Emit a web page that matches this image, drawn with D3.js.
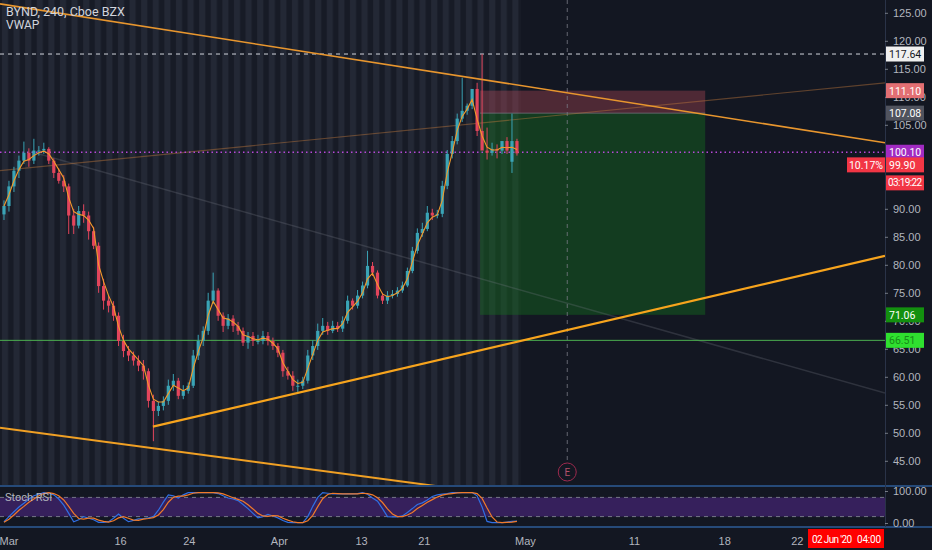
<!DOCTYPE html>
<html lang="en">
<head>
<meta charset="utf-8">
<title>BYND, 240, Cboe BZX</title>
<style>
  html, body {margin: 0; padding: 0; background: #131722;}
  svg {display: block; font-family: Roboto, "Liberation Sans", Arial, sans-serif;}
  .axis text {fill: #b2b5be; font-size: 11px;}
  .axis line {stroke: #b2b5be; stroke-opacity: 0.6;}
  .axis path {display: none;}
</style>
</head>
<body>
<svg id="chart" width="932" height="550"></svg>
<script src="https://cdn.jsdelivr.net/npm/d3@7"></script>
<script>
  // 4h candles, one entry per bar
  var opens = [
    89.0, 90.5, 94.0, 96.8, 98.6, 100.0, 98.6, 100.4, 100.4, 100.7,
    98.6, 96.4, 95.0, 94.0, 88.8, 87.0, 89.6, 88.8, 86.0, 83.4,
    76.2, 73.6, 72.7, 70.9, 66.4, 64.6, 63.8, 62.9, 62.0, 61.0,
    55.7, 53.9, 54.8, 55.7, 58.4, 59.3, 56.6, 57.5, 58.4, 63.8,
    66.4, 68.2, 73.6, 75.4, 70.9, 69.1, 70.4, 69.1, 68.2, 66.1,
    67.3, 66.4, 66.4, 67.3, 66.4, 65.5, 64.3, 61.0, 60.2, 58.4,
    58.4, 59.3, 63.8, 65.5, 68.2, 69.1, 68.2, 69.1, 68.6, 70.0,
    73.6, 72.7, 74.5, 76.3, 79.8, 78.6, 74.5, 73.6, 74.5, 74.8,
    75.4, 76.3, 78.9, 82.5, 85.7, 86.4, 89.3, 88.8, 89.1, 94.1,
    99.8, 102.1, 106.1, 107.5, 108.4, 111.4, 103.9, 100.4, 100.0, 100.7,
    100.4, 102.1, 98.4, 102.1
  ];
  var highs = [
    91.5, 95.0, 97.5, 99.5, 102.0, 100.8, 102.5, 101.2, 101.8, 101.0,
    99.0, 97.2, 96.0, 94.5, 90.0, 90.5, 90.8, 89.5, 86.8, 84.0,
    77.5, 74.5, 73.5, 71.5, 67.5, 65.5, 64.5, 63.8, 63.0, 61.5,
    56.8, 55.5, 56.5, 59.5, 60.5, 59.8, 58.5, 59.0, 64.8, 67.5,
    69.0, 75.0, 78.6, 75.8, 71.5, 71.2, 71.0, 69.8, 68.8, 68.0,
    68.0, 67.5, 68.2, 68.0, 67.0, 66.0, 64.8, 61.8, 61.0, 59.5,
    60.0, 64.8, 66.5, 69.5, 70.5, 69.8, 70.0, 69.8, 70.8, 74.5,
    74.0, 75.5, 77.0, 82.5, 80.5, 79.0, 75.0, 75.3, 75.5, 76.0,
    77.0, 79.5, 83.2, 86.5, 87.5, 90.5, 90.0, 89.8, 95.0, 100.5,
    103.0, 107.0, 113.4, 108.8, 109.5, 112.5, 117.6, 104.5, 101.8, 101.5,
    101.5, 102.8, 107.0, 102.5
  ];
  var lows = [
    88.0, 89.5, 93.0, 95.5, 98.0, 97.5, 98.0, 99.5, 99.8, 98.0,
    95.5, 94.5, 93.0, 85.5, 85.5, 86.5, 87.5, 84.5, 82.8, 75.0,
    72.0, 71.5, 70.0, 65.5, 63.5, 62.8, 62.0, 61.0, 59.5, 54.5,
    48.5, 53.0, 54.0, 55.0, 57.5, 56.0, 56.0, 57.0, 58.0, 63.0,
    65.5, 67.5, 73.0, 70.0, 68.0, 68.5, 68.0, 67.5, 65.5, 65.0,
    65.5, 65.8, 65.8, 65.6, 64.8, 63.5, 60.0, 59.5, 57.5, 57.3,
    57.8, 58.8, 63.0, 64.8, 67.5, 67.5, 67.8, 68.0, 68.0, 69.5,
    72.0, 72.2, 74.0, 75.8, 78.0, 74.0, 73.0, 73.0, 74.0, 74.3,
    75.0, 76.0, 78.5, 82.0, 85.0, 86.0, 88.0, 88.3, 88.5, 93.5,
    99.0, 101.5, 105.5, 106.8, 107.8, 103.0, 100.5, 98.8, 99.5, 99.0,
    99.8, 99.8, 96.4, 99.5
  ];
  var closes = [
    90.5, 94.0, 96.8, 98.6, 100.0, 98.6, 100.4, 100.4, 100.7, 98.6,
    96.4, 95.0, 94.0, 88.8, 87.0, 89.6, 88.8, 86.0, 83.4, 76.2,
    73.6, 72.7, 70.9, 66.4, 64.6, 63.8, 62.9, 62.0, 61.0, 55.7,
    53.9, 54.8, 55.7, 58.4, 59.3, 56.6, 57.5, 58.4, 63.8, 66.4,
    68.2, 73.6, 75.4, 70.9, 69.1, 70.4, 69.1, 68.2, 66.1, 67.3,
    66.4, 66.4, 67.3, 66.4, 65.5, 64.3, 61.0, 60.2, 58.4, 58.4,
    59.3, 63.8, 65.5, 68.2, 69.1, 68.2, 69.1, 68.6, 70.0, 73.6,
    72.7, 74.5, 76.3, 79.8, 78.6, 74.5, 73.6, 74.5, 74.8, 75.4,
    76.3, 78.9, 82.5, 85.7, 86.4, 89.3, 88.8, 89.1, 94.1, 99.8,
    102.1, 106.1, 107.5, 108.4, 111.4, 103.9, 100.4, 100.0, 100.7, 100.4,
    102.1, 100.4, 102.1, 99.9
  ];
  var vwap = [
    90.5, 92.5, 95.0, 97.0, 98.5, 98.8, 99.5, 100.0, 100.3, 99.8,
    98.5, 97.0, 95.5, 92.0, 89.5, 89.0, 88.8, 88.0, 86.5, 80.0,
    77.0, 74.5, 72.5, 69.0, 66.5, 65.0, 64.0, 63.0, 62.0, 58.5,
    56.0, 55.5, 55.5, 57.0, 58.5, 58.0, 57.5, 58.0, 61.5, 64.5,
    67.0, 71.0, 73.5, 72.0, 70.5, 70.3, 69.8, 69.0, 67.5, 67.2,
    66.8, 66.6, 66.9, 66.7, 66.0, 65.0, 62.5, 61.0, 59.5, 58.8,
    59.0, 61.5, 64.0, 66.5, 68.0, 68.3, 68.6, 68.6, 69.5, 71.5,
    72.5, 73.5, 75.0, 77.5, 78.5, 76.5, 74.8, 74.3, 74.5, 75.0,
    75.8, 77.5, 80.5, 83.5, 85.5, 87.5, 88.5, 88.9, 91.5, 96.5,
    100.0, 104.0, 106.5, 107.8, 109.5, 106.0, 103.0, 101.0, 100.5, 100.5,
    101.0, 100.9, 101.0, 100.6
  ];
  var stochK = [
    4, 20, 35, 50, 62, 75, 85, 90, 95, 93,
    88, 75, 56, 30, 4, 10, 20, 15, 10, 2,
    2, 4, 15, 28, 15, 4, 8, 13, 14, 16,
    20, 40, 65, 88, 85, 78, 88, 95, 95, 95,
    95, 95, 95, 92, 85, 78, 75, 70, 58, 45,
    30, 16, 20, 27, 22, 16, 8, 2, 1, 1,
    1, 20, 52, 80, 95, 93, 91, 91, 91, 91,
    91, 92, 95, 90, 78, 68, 45, 20, 19, 19,
    22, 33, 45, 58, 63, 72, 83, 88, 90, 92,
    95, 95, 95, 95, 95, 85, 50, 5, 1, 1,
    1, 3, 5, 6
  ];
  var stochD = [
    2, 12, 25, 40, 52, 65, 75, 85, 92, 95,
    92, 85, 72, 52, 30, 14, 12, 15, 15, 9,
    5, 3, 7, 16, 20, 15, 9, 8, 12, 14,
    17, 25, 42, 65, 80, 84, 84, 88, 93, 95,
    95, 95, 95, 94, 91, 85, 79, 74, 68, 57,
    44, 30, 22, 21, 23, 22, 15, 9, 4, 1,
    1, 7, 24, 51, 76, 89, 93, 92, 91, 91,
    91, 91, 93, 92, 88, 79, 64, 44, 28, 20,
    20, 25, 33, 45, 55, 65, 73, 81, 87, 90,
    92, 94, 95, 95, 95, 92, 77, 47, 19, 3,
    1, 2, 3, 5
  ];

  // 100.00 and 95.00 sit fully under the price tags in the picture
  var priceTicks = [125, 120, 115, 110, 105, 90, 85, 80, 75, 70, 65, 60, 55, 50, 45];
  var timeTickLabels = ["Mar", "16", "24", "Apr", "13", "21", "May", "11", "18", "22"];
  var timeTickBars = [0.9, 23.3, 37.1, 55.2, 71.7, 84.3, 104.6, 126.5, 144.6, 159.2];

  // drawings: [bar1, price1, bar2, price2]
  var resistanceLine = [-0.8, 126.6, 176.9, 101.8];
  var fadedRiseLine = [-0.8, 96.8, 176.9, 112.5];
  var fadedFallLine = [6.2, 100.0, 176.9, 57.1];
  var supportLine = [29.9, 51.1, 176.9, 81.6];
  var lowerLine = [-0.8, 50.9, 87.5, 40.4];

  var entryPrice = 107.08, stopPrice = 111.10, targetPrice = 71.06;
  var positionBars = [95.6, 140.8];
  var earningsBar = 113.1;
  var levelLine = 66.51, dottedLevel = 100.10, highLevel = 117.64;
  var lastPrice = 99.90, changePct = "10.17%", countdown = "03:19:22";
  var cursorDate = "02 Jun '20", cursorTime = "04:00";

  var W = 932, H = 550, plotR = 885, mainB = 485;

  var svg = d3.select("#chart");
  var x = d3.scaleLinear().domain([-0.8, 176.9]).range([0, plotR]);
  var y = d3.scaleLinear().domain([45, 125]).range([460.8, 12.8]);
  var ys = d3.scaleLinear().domain([0, 100]).range([523, 491]);

  svg.append("rect").attr("width", W).attr("height", H).attr("fill", "#131722");

  var defs = svg.append("defs");
  var pat = defs.append("pattern").attr("id", "sess").attr("patternUnits", "userSpaceOnUse")
    .attr("width", 11.6).attr("height", 10);
  pat.append("rect").attr("width", 11.6).attr("height", 10).attr("fill", "#171b26");
  pat.append("rect").attr("x", 2).attr("width", 6).attr("height", 10).attr("fill", "#232835");
  defs.append("clipPath").attr("id", "mainClip").append("rect")
    .attr("width", plotR).attr("height", mainB);

  var main = svg.append("g").attr("clip-path", "url(#mainClip)");

  // extended-hours session stripes behind the bars
  main.append("rect").attr("x", 0).attr("y", 0)
    .attr("width", x(closes.length - 1) + 4).attr("height", mainB)
    .attr("fill", "url(#sess)");

  // position tool
  main.append("rect")
    .attr("x", x(positionBars[0])).attr("width", x(positionBars[1]) - x(positionBars[0]))
    .attr("y", y(entryPrice)).attr("height", y(targetPrice) - y(entryPrice))
    .attr("fill", "rgba(20,120,30,0.38)");
  main.append("rect")
    .attr("x", x(positionBars[0])).attr("width", x(positionBars[1]) - x(positionBars[0]))
    .attr("y", y(stopPrice)).attr("height", y(entryPrice) - y(stopPrice))
    .attr("fill", "rgba(200,80,95,0.33)");
  main.append("line")
    .attr("x1", x(positionBars[0])).attr("x2", x(positionBars[1]))
    .attr("y1", y(entryPrice)).attr("y2", y(entryPrice))
    .attr("stroke", "#787b86").attr("stroke-opacity", 0.7);

  function seg(d, color, width) {
    main.append("line")
      .attr("x1", x(d[0])).attr("y1", y(d[1]))
      .attr("x2", x(d[2])).attr("y2", y(d[3]))
      .attr("stroke", color).attr("stroke-width", width);
  }
  seg(fadedFallLine, "rgba(120,123,134,0.28)", 1.5);
  seg(fadedRiseLine, "rgba(190,120,60,0.45)", 1.2);

  // horizontal levels
  main.append("line").attr("x1", 0).attr("x2", plotR)
    .attr("y1", y(highLevel)).attr("y2", y(highLevel))
    .attr("stroke", "#d1d4dc").attr("stroke-width", 1).attr("stroke-dasharray", "4,4");
  main.append("line").attr("x1", 0).attr("x2", plotR)
    .attr("y1", y(dottedLevel)).attr("y2", y(dottedLevel))
    .attr("stroke", "#b548d6").attr("stroke-width", 1.3).attr("stroke-dasharray", "1.5,3");
  main.append("line").attr("x1", 0).attr("x2", plotR)
    .attr("y1", y(levelLine)).attr("y2", y(levelLine))
    .attr("stroke", "#4caf50").attr("stroke-width", 1);

  // earnings marker
  main.append("line").attr("x1", x(earningsBar)).attr("x2", x(earningsBar))
    .attr("y1", 0).attr("y2", 462)
    .attr("stroke", "#787b86").attr("stroke-opacity", 0.8).attr("stroke-dasharray", "4,4");
  main.append("circle").attr("cx", x(earningsBar)).attr("cy", 472).attr("r", 9)
    .attr("fill", "#131722").attr("stroke", "#9c2a4e").attr("stroke-width", 1);
  main.append("text").attr("x", x(earningsBar)).attr("y", 476)
    .attr("text-anchor", "middle").attr("font-size", 10).attr("fill", "#b0506a").text("E");

  // candles
  var upC = "#3aa4b6", dnC = "#e2455c";
  var bars = d3.range(closes.length).map(function (i) {
    return {i: i, o: opens[i], h: highs[i], l: lows[i], c: closes[i]};
  });
  var cg = main.append("g");
  cg.selectAll("line.wick").data(bars).enter().append("line")
    .attr("class", "wick")
    .attr("x1", function (d) { return x(d.i); }).attr("x2", function (d) { return x(d.i); })
    .attr("y1", function (d) { return y(d.h); }).attr("y2", function (d) { return y(d.l); })
    .attr("stroke", function (d) { return d.c >= d.o ? upC : dnC; })
    .attr("stroke-width", 1);
  cg.selectAll("rect.body").data(bars).enter().append("rect")
    .attr("class", "body")
    .attr("x", function (d) { return x(d.i) - 1.6; }).attr("width", 3.2)
    .attr("y", function (d) { return y(Math.max(d.o, d.c)); })
    .attr("height", function (d) { return Math.max(1, Math.abs(y(d.o) - y(d.c))); })
    .attr("fill", function (d) { return d.c >= d.o ? upC : dnC; });

  main.append("path").datum(vwap)
    .attr("d", d3.line().x(function (d, i) { return x(i); }).y(function (d) { return y(d); }))
    .attr("fill", "none").attr("stroke", "#f39a2b").attr("stroke-width", 1.1);

  seg(resistanceLine, "#e8962e", 1.6);
  seg(supportLine, "#f7a41d", 2.2);
  seg(lowerLine, "#f0a024", 2);

  // header
  svg.append("text").attr("x", 6).attr("y", 16).attr("font-size", 12.5)
    .attr("fill", "#d1d4dc").text("BYND, 240, Cboe BZX");
  svg.append("text").attr("x", 6).attr("y", 29).attr("font-size", 12)
    .attr("fill", "#d1d4dc").text("VWAP");

  // stoch RSI pane
  var sp = svg.append("g");
  sp.append("rect").attr("x", 0).attr("width", plotR)
    .attr("y", ys(80)).attr("height", ys(20) - ys(80)).attr("fill", "#36205c");
  [80, 20].forEach(function (v) {
    sp.append("line").attr("x1", 0).attr("x2", plotR).attr("y1", ys(v)).attr("y2", ys(v))
      .attr("stroke", "#8a8d99").attr("stroke-dasharray", "4,4").attr("stroke-opacity", 0.8);
  });
  var sline = d3.line().x(function (d, i) { return x(i); }).y(function (d) { return ys(d); });
  sp.append("path").datum(stochK).attr("d", sline)
    .attr("fill", "none").attr("stroke", "#2f6fe4").attr("stroke-width", 1.2);
  sp.append("path").datum(stochD).attr("d", sline)
    .attr("fill", "none").attr("stroke", "#f07a2a").attr("stroke-width", 1.2);
  sp.append("text").attr("x", 5).attr("y", 501).attr("font-size", 11)
    .attr("fill", "#b2b5be").text("Stoch RSI");

  [486, 527].forEach(function (yy) {
    svg.append("line").attr("x1", 0).attr("x2", W).attr("y1", yy).attr("y2", yy)
      .attr("stroke", "#3b7fd0").attr("stroke-width", 1.2);
  });
  svg.append("line").attr("x1", plotR + 0.5).attr("x2", plotR + 0.5).attr("y1", 0).attr("y2", 527)
    .attr("stroke", "#2a3348").attr("stroke-width", 1);

  // axes
  svg.append("g").attr("class", "axis").attr("transform", "translate(" + plotR + ",0)")
    .call(d3.axisRight(y).tickValues(priceTicks).tickFormat(d3.format(".2f")).tickSize(3).tickPadding(5));
  svg.append("g").attr("class", "axis").attr("transform", "translate(" + plotR + ",0)")
    .call(d3.axisRight(ys).tickValues([100, 0]).tickFormat(d3.format(".2f")).tickSize(3).tickPadding(5));
  svg.append("g").attr("class", "axis").attr("transform", "translate(0,531)")
    .call(d3.axisBottom(x).tickValues(timeTickBars)
      .tickFormat(function (d, i) { return timeTickLabels[i]; }).tickSize(0).tickPadding(6));

  // price scale tags
  function tag(price, text, fill, color, yShift) {
    var yy = y(price) + (yShift || 0);
    svg.append("rect").attr("x", plotR + 1).attr("y", yy - 7.5).attr("width", 38).attr("height", 15)
      .attr("fill", fill);
    svg.append("text").attr("x", plotR + 4).attr("y", yy + 4).attr("font-size", 10.5)
      .attr("fill", color).text(text);
  }
  tag(highLevel, highLevel.toFixed(2), "#f0f0f0", "#131722");
  tag(stopPrice, stopPrice.toFixed(2), "#e26f73", "#ffffff");
  tag(entryPrice, entryPrice.toFixed(2), "#50535e", "#ffffff");
  tag(dottedLevel, dottedLevel.toFixed(2), "#a12bc2", "#ffffff");
  tag(lastPrice, lastPrice.toFixed(2), "#f23645", "#ffffff", 11.5);
  tag(targetPrice, targetPrice.toFixed(2), "#13900f", "#ffffff");
  tag(levelLine, levelLine.toFixed(2), "#2fe02f", "#178a17");

  var ly = y(lastPrice) + 11.5;
  svg.append("rect").attr("x", 847).attr("y", ly - 7.5).attr("width", 38).attr("height", 15).attr("fill", "#f23645");
  svg.append("text").attr("x", 866).attr("y", ly + 4).attr("text-anchor", "middle").attr("font-size", 10.5)
    .attr("fill", "#ffffff").text(changePct);
  svg.append("rect").attr("x", plotR + 1).attr("y", ly + 10.5).attr("width", 38).attr("height", 15).attr("fill", "#f23645");
  svg.append("text").attr("x", plotR + 3).attr("y", ly + 21.5).attr("font-size", 10)
    .attr("textLength", 34).attr("fill", "#ffffff").text(countdown);

  // crosshair date tag
  svg.append("rect").attr("x", 808).attr("y", 529).attr("width", 76).attr("height", 19).attr("fill", "#ff0000");
  svg.append("text").attr("x", 812).attr("y", 542.5).attr("font-size", 10)
    .attr("textLength", 40).attr("fill", "#ffffff").text(cursorDate);
  svg.append("text").attr("x", 857).attr("y", 542.5).attr("font-size", 10)
    .attr("textLength", 24).attr("fill", "#ffffff").text(cursorTime);
</script>
</body>
</html>
